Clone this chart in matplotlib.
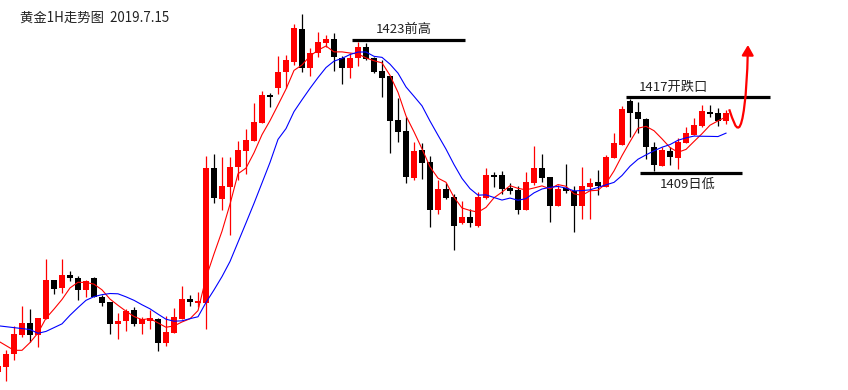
import numpy as np
import pandas as pd
import matplotlib
matplotlib.use('Agg')
import matplotlib.pyplot as plt
from matplotlib.path import Path
from matplotlib.patches import PathPatch

plt.rcParams['font.family'] = ['Noto Sans CJK SC', 'DejaVu Sans']

# 1小时K线, 第一根只露出一半
bars = np.arange(-1, 91)
opens = [1387.9, 1388.4, 1389.8, 1391.8, 1393.1, 1391.8, 1393.5, 1397.6, 1396.8, 1398.2,
         1397.9, 1396.6, 1397.9, 1395.8, 1395.3, 1393.0, 1393.3, 1394.5, 1393.0, 1393.3,
         1393.5, 1391.0, 1392.0, 1393.5, 1395.6, 1395.2, 1395.2, 1409.5, 1406.2, 1407.5,
         1409.6, 1411.3, 1412.4, 1414.3, 1417.2, 1418.0, 1419.6, 1420.7, 1424.2, 1420.1,
         1421.7, 1422.7, 1423.1, 1421.1, 1420.1, 1421.1, 1422.3, 1421.1, 1419.8, 1419.2,
         1414.6, 1413.4, 1408.4, 1411.4, 1410.1, 1405.0, 1407.3, 1406.4, 1403.7, 1404.3,
         1403.4, 1406.3, 1408.8, 1408.7, 1407.4, 1407.2, 1405.0, 1407.9, 1409.5, 1408.5,
         1405.5, 1407.4, 1407.1, 1405.5, 1407.5, 1408.0, 1407.5, 1410.6, 1411.9, 1416.6,
         1415.4, 1414.7, 1411.7, 1409.7, 1411.3, 1410.6, 1412.1, 1413.0, 1413.9, 1415.4,
         1415.3, 1414.5]
highs = [1389.0, 1390.2, 1392.8, 1394.9, 1394.6, 1393.6, 1399.9, 1397.6, 1399.9, 1398.6,
         1398.1, 1397.6, 1398.0, 1396.1, 1395.3, 1394.2, 1394.6, 1394.8, 1393.7, 1394.5,
         1393.6, 1393.8, 1394.7, 1397.0, 1396.1, 1396.4, 1410.8, 1411.0, 1410.7, 1410.7,
         1412.4, 1413.6, 1416.4, 1417.6, 1417.4, 1421.3, 1421.5, 1424.7, 1425.8, 1422.2,
         1423.9, 1423.6, 1423.8, 1421.3, 1421.7, 1422.8, 1422.7, 1421.2, 1420.9, 1419.2,
         1416.9, 1414.9, 1412.2, 1412.1, 1410.8, 1408.2, 1407.9, 1406.7, 1406.0, 1405.2,
         1406.9, 1409.5, 1409.1, 1409.2, 1407.9, 1407.6, 1409.1, 1411.8, 1411.0, 1408.5,
         1407.7, 1409.9, 1407.6, 1409.6, 1408.4, 1409.3, 1410.9, 1413.2, 1416.1, 1416.8,
         1416.5, 1414.8, 1412.2, 1411.7, 1411.7, 1412.7, 1413.8, 1414.8, 1416.2, 1416.2,
         1415.8, 1415.6]
lows = [1387.5, 1387.0, 1389.2, 1391.6, 1391.1, 1390.5, 1393.5, 1396.2, 1396.3, 1397.5,
        1395.5, 1395.8, 1395.8, 1394.9, 1391.9, 1391.4, 1392.2, 1392.8, 1391.9, 1392.5,
        1390.1, 1390.7, 1392.0, 1393.5, 1394.9, 1394.8, 1392.5, 1405.8, 1405.1, 1402.4,
        1408.2, 1408.9, 1412.4, 1414.3, 1416.0, 1417.3, 1418.0, 1420.4, 1419.7, 1419.2,
        1421.2, 1422.3, 1419.8, 1418.4, 1419.0, 1420.3, 1420.9, 1419.5, 1417.0, 1411.1,
        1412.2, 1407.9, 1408.2, 1408.3, 1403.3, 1404.6, 1406.2, 1400.8, 1403.6, 1403.3,
        1403.3, 1406.2, 1407.5, 1406.7, 1406.7, 1404.6, 1405.0, 1407.7, 1408.0, 1403.8,
        1405.5, 1406.8, 1402.7, 1404.1, 1404.1, 1406.6, 1407.5, 1410.6, 1411.9, 1412.8,
        1413.2, 1410.4, 1409.2, 1409.7, 1409.8, 1409.4, 1412.1, 1413.0, 1413.8, 1414.9,
        1413.9, 1414.1]
closes = [1388.5, 1389.8, 1391.9, 1393.1, 1391.8, 1393.6, 1397.6, 1396.7, 1398.2, 1397.9,
          1396.6, 1397.5, 1395.8, 1395.2, 1393.0, 1393.3, 1394.4, 1393.0, 1393.5, 1393.6,
          1391.0, 1392.1, 1393.7, 1395.6, 1395.3, 1395.3, 1409.5, 1406.3, 1407.6, 1409.6,
          1411.4, 1412.5, 1414.4, 1417.2, 1417.0, 1419.7, 1420.9, 1424.3, 1420.1, 1421.7,
          1422.8, 1423.1, 1421.2, 1420.1, 1421.1, 1422.3, 1421.0, 1419.7, 1419.0, 1414.5,
          1413.3, 1408.5, 1411.3, 1410.0, 1405.0, 1407.3, 1406.3, 1403.4, 1404.3, 1403.7,
          1406.4, 1408.8, 1408.5, 1407.3, 1407.1, 1405.0, 1408.0, 1409.5, 1408.4, 1405.5,
          1407.3, 1407.1, 1405.5, 1407.6, 1407.9, 1407.6, 1410.7, 1412.1, 1415.7, 1415.3,
          1414.7, 1411.7, 1409.8, 1411.4, 1410.7, 1412.2, 1413.2, 1414.0, 1415.5, 1415.2,
          1414.5, 1415.3]

# 均线开头几点要用到图外的K线, 直接从图上读
ma5_head = [1391.2, 1390.7, 1390.2, 1390.2]
ma10_head = [1392.8, 1392.7, 1392.6, 1392.5, 1392.4, 1392.0, 1392.2, 1392.6, 1393.0]

levels = [1423, 1417, 1409]
level_labels = ['1423前高', '1417开跌口', '1409日低']
level_spans = [(43.25, 57.4), (77.5, 95.5), (79.25, 92.0)]

title = '黄金1H走势图  2019.7.15'

c = pd.Series(closes)
ma5 = c.rolling(5).mean().values
ma5[:len(ma5_head)] = ma5_head
ma10 = c.rolling(10).mean().values
ma10[:len(ma10_head)] = ma10_head

fig = plt.figure(figsize=(8.48, 3.9), dpi=100)
ax = fig.add_axes([0, 0, 1, 1])
ax.axis('off')
ax.set_xlim(-0.75, 105.25)
ax.set_ylim(1386.0, 1427.27)

o = np.array(opens)
cl = np.array(closes)
up = cl > o
cols = np.where(up, '#ff0000', '#000000')

ax.vlines(bars, lows, highs, colors=cols, linewidth=0.9, zorder=2)
body_lo = np.minimum(o, cl)
body_h = np.maximum(np.abs(cl - o), 0.18)
ax.bar(bars, body_h, bottom=body_lo, width=0.68, color=cols, linewidth=0, zorder=3)

ax.plot(bars, ma5, color='#ff0000', linewidth=0.8, zorder=4)
ax.plot(bars, ma10, color='#0000ff', linewidth=0.8, zorder=4)

# 支撑阻力线
for lv, (x1, x2) in zip(levels, level_spans):
    ax.plot([x1, x2], [lv, lv], color='black', linewidth=2.3, solid_capstyle='butt', zorder=5)

ax.text(49.75, levels[0] + 1.1, level_labels[0], ha='center', va='center',
        fontsize=9.5, color='#222222')
ax.text(83.4, levels[1] + 1.05, level_labels[1], ha='center', va='center',
        fontsize=9.5, color='#222222')
ax.text(85.25, levels[2] - 1.25, level_labels[2], ha='center', va='center',
        fontsize=9.5, color='#222222')

fig.text(20 / 848, 1 - 17.5 / 390, title, ha='left', va='center',
         fontsize=9.6, color='#222222')

# 红色预测箭头
verts = [(90.4, 1415.7), (90.9, 1414.5), (91.2, 1413.6), (91.6, 1413.8),
         (92.1, 1414.0), (92.6, 1417.0), (92.72, 1421.7)]
codes = [Path.MOVETO, Path.CURVE4, Path.CURVE4, Path.CURVE4,
         Path.CURVE4, Path.CURVE4, Path.CURVE4]
ax.add_patch(PathPatch(Path(verts, codes), facecolor='none', edgecolor='#ff0000',
                       linewidth=1.6, zorder=6))
ax.annotate('', xy=(92.75, 1422.8), xytext=(92.72, 1421.5),
            arrowprops=dict(arrowstyle='-|>,head_length=0.6,head_width=0.35',
                            color='#ff0000', lw=1.6), zorder=6)

fig.savefig('out.png', dpi=100, facecolor='white')
